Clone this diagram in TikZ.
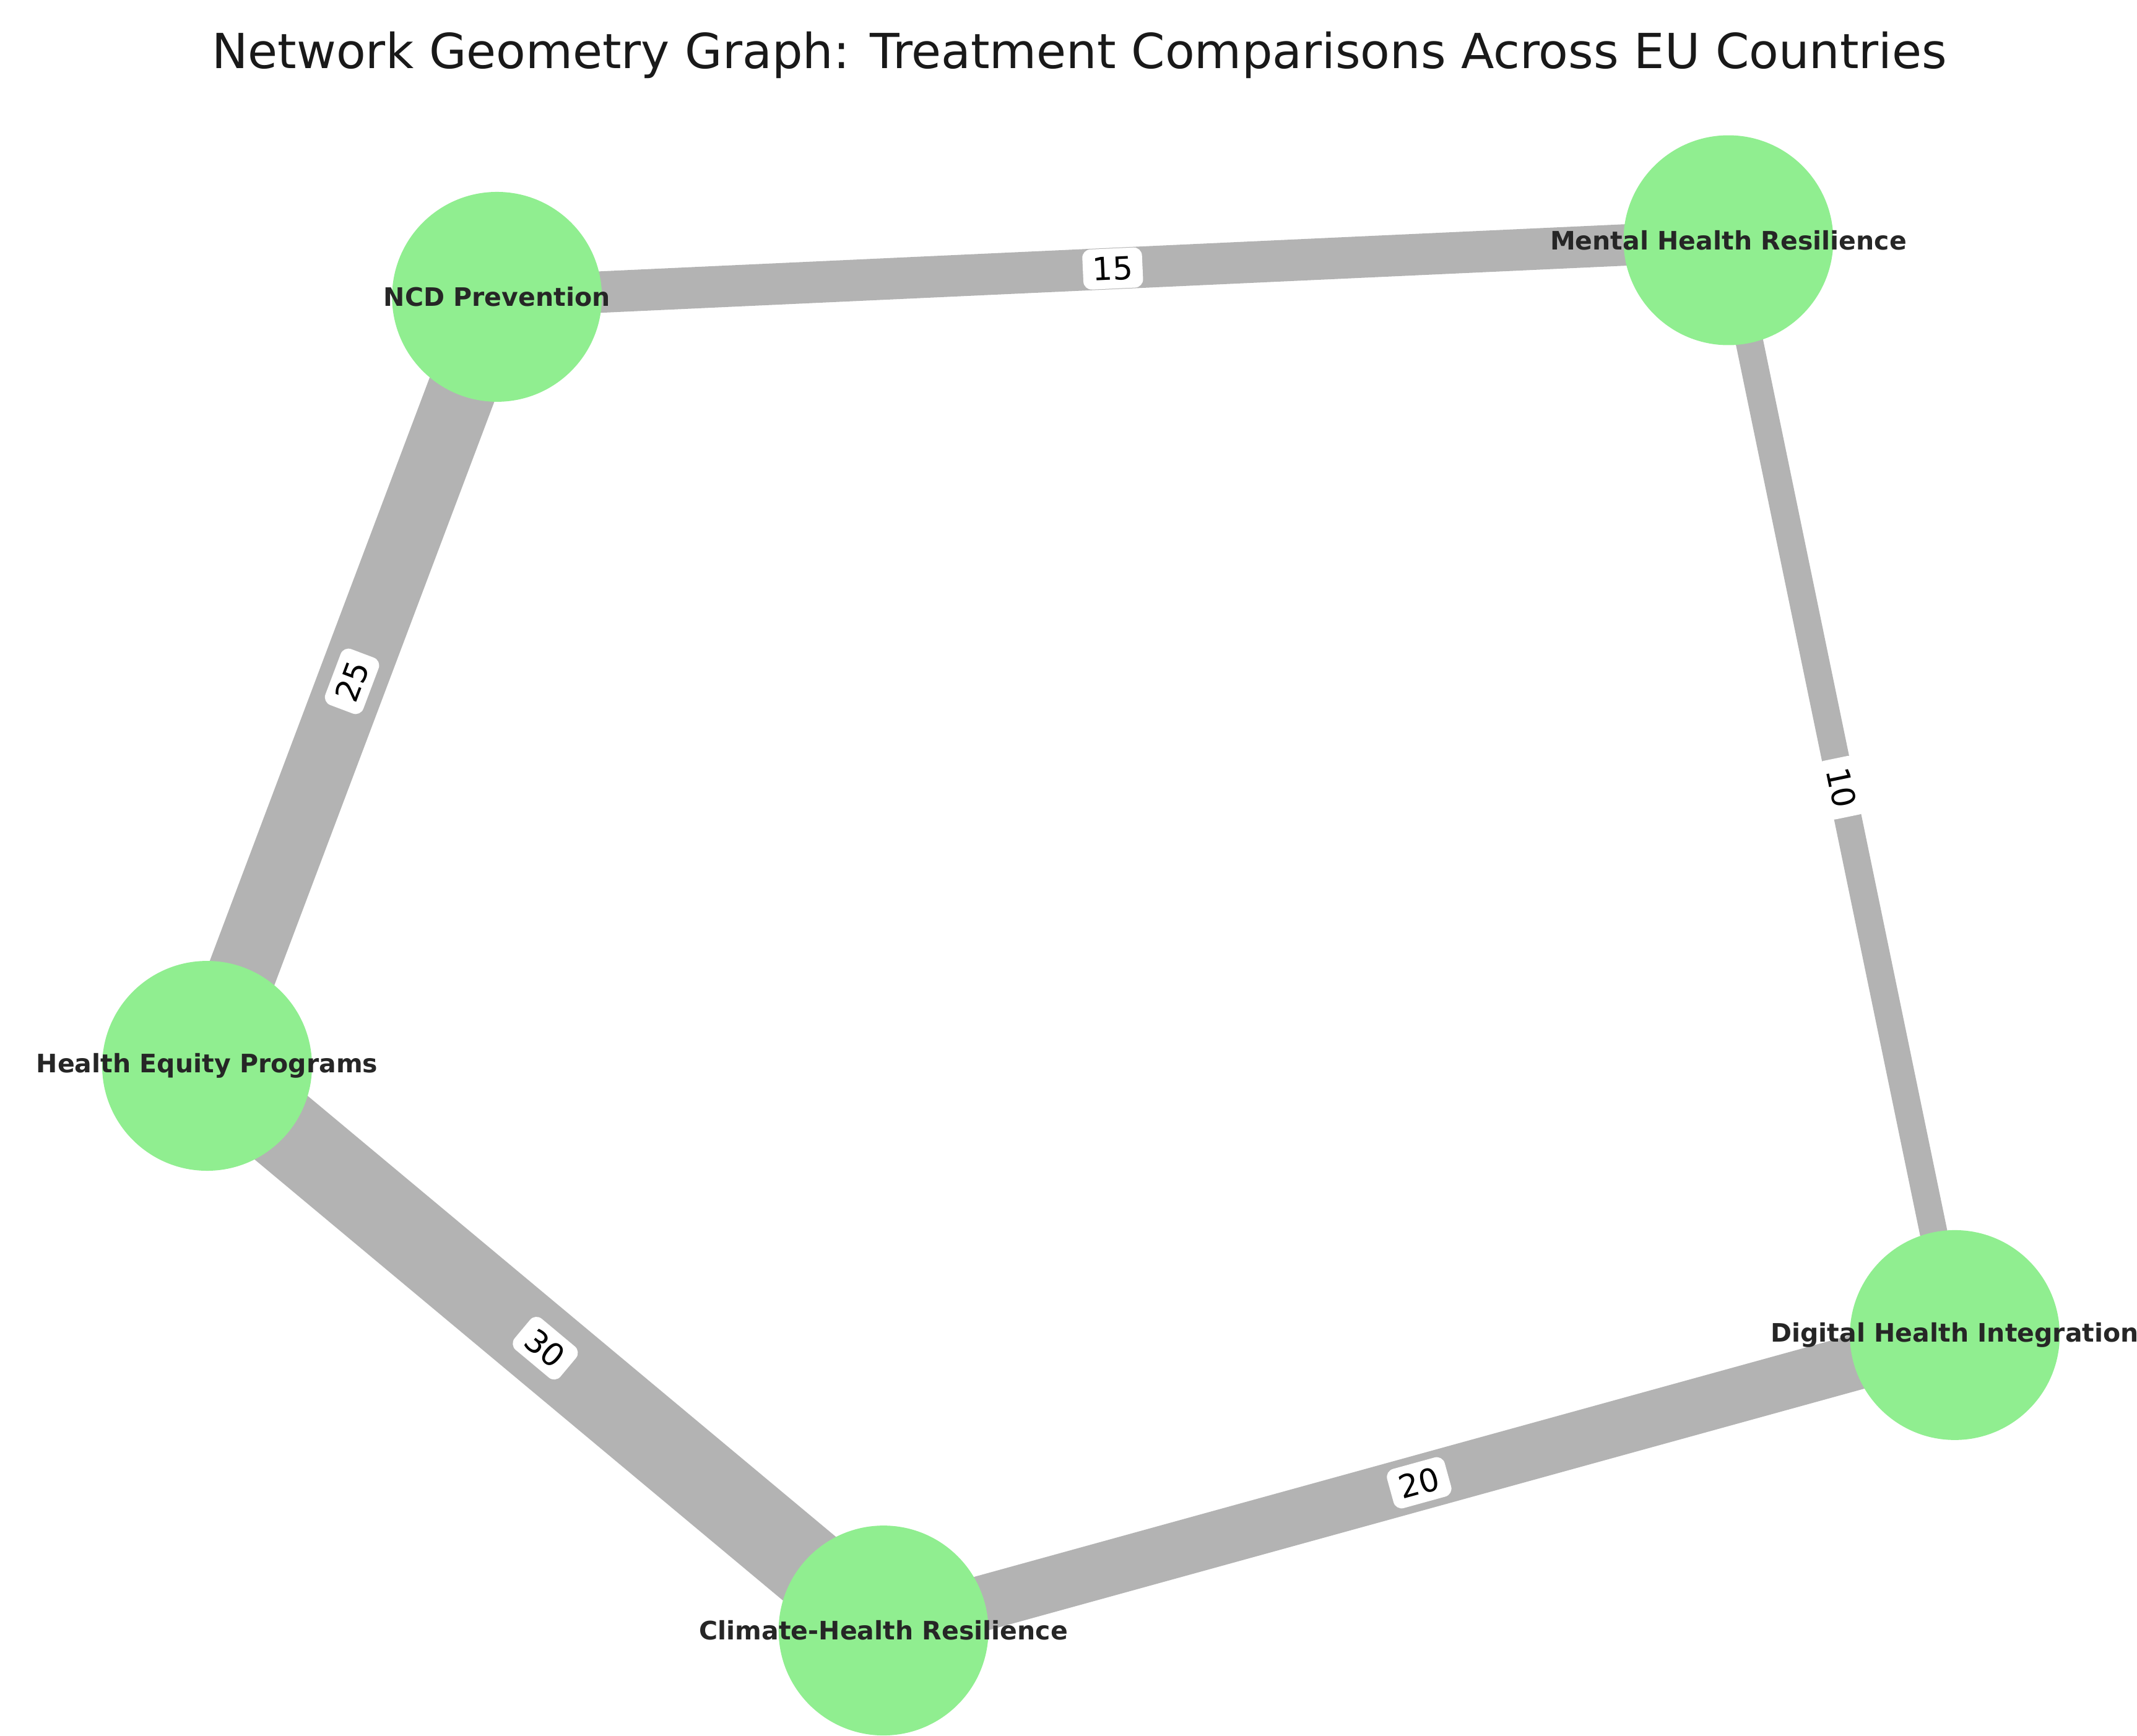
\documentclass[tikz,border=0pt]{standalone}
\usepackage{fontspec}
\setmainfont{DejaVu Sans}
\begin{document}
\begin{tikzpicture}[x=0.5pt,y=-0.5pt,
  edge/.style={draw=edgegray,line cap=butt},
  elabel/.style={midway,sloped,fill=white,rounded corners=3pt,inner xsep=3.5pt,inner ysep=3pt,font=\fontsize{11.5}{12}\selectfont},
  topic/.style={circle,fill=lightgreen,minimum size=76pt,inner sep=0pt},
  tlabel/.style={font=\fontsize{9.2}{10}\selectfont\bfseries,text=black!85}]
\definecolor{lightgreen}{HTML}{90EE90}
\definecolor{edgegray}{HTML}{B3B3B3}
\useasboundingbox (0,0) rectangle (1548,1257);
\clip (0,0) rectangle (1548,1257);
\fill[white] (0,0) rectangle (1548,1257);
\node[font=\fontsize{17.5}{18}\selectfont,text=black!90] (title) at (782,40) {Network Geometry Graph: Treatment Comparisons Across EU Countries};
\coordinate (cn) at (360,215);
\coordinate (cm) at (1252,174);
\coordinate (ch) at (150,772);
\coordinate (cc) at (640,1181);
\coordinate (cd) at (1416,967);
\draw[edge,line width=15pt] (cn) -- (cm) node[elabel]{15};
\draw[edge,line width=25pt] (ch) -- (cn) node[elabel]{25};
\draw[edge,line width=30pt] (ch) -- (cc) node[elabel]{30};
\draw[edge,line width=20pt] (cc) -- (cd) node[elabel]{20};
\draw[edge,line width=10pt] (cm) -- (cd) node[elabel]{10};
\node[topic,label={[tlabel]center:NCD Prevention}] (ncd) at (cn) {};
\node[topic,label={[tlabel]center:Mental Health Resilience}] (mhr) at (cm) {};
\node[topic,label={[tlabel]center:Health Equity Programs}] (hep) at (ch) {};
\node[topic,label={[tlabel]center:Climate-Health Resilience}] (chr) at (cc) {};
\node[topic,label={[tlabel]center:Digital Health Integration}] (dhi) at (cd) {};
\end{tikzpicture}
\end{document}
